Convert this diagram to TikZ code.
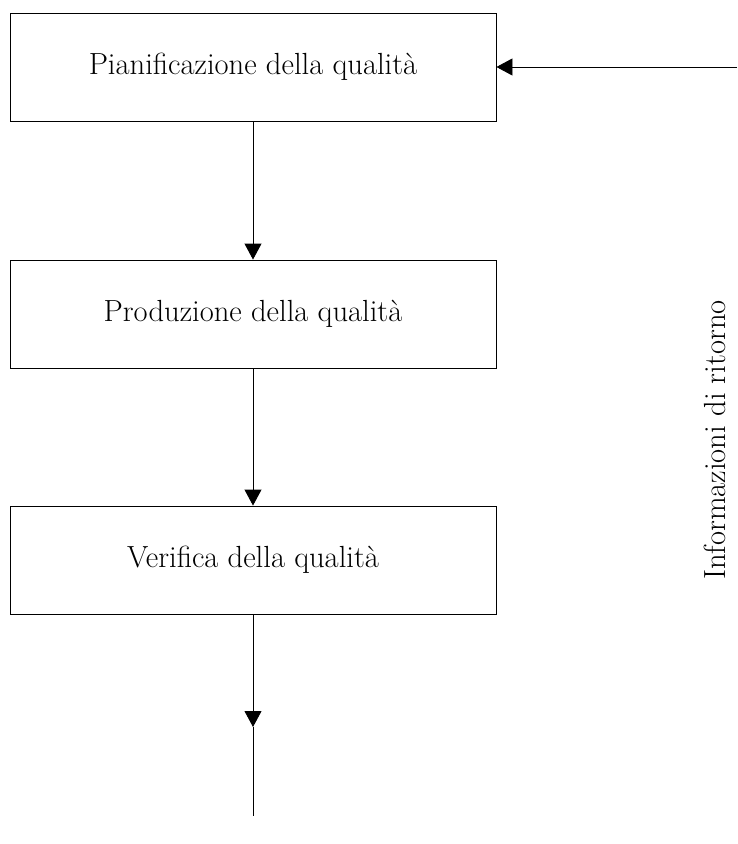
\documentclass[tikz,border=0pt]{standalone}
\usepackage{amsmath}
\usetikzlibrary{arrows.meta,positioning}

\tikzset{
  qfont/.style={font=\fontsize{17.4}{21}\selectfont},
  qbox/.style={draw, line width=0.5pt, minimum width=9.72cm, minimum height=2.16cm, inner sep=0pt, qfont},
  qarrow/.style={-{Triangle[width=0.34cm,length=0.32cm]}, line width=0.5pt}
}

\begin{document}
\begin{tikzpicture}

\useasboundingbox (0,0) rectangle (14.74,-16.88);

\node[qbox] (plan_box) at (5.06, -1.34) {Pianificazione della qualit\`a};
\node[qbox] (prod_box) at (5.06, -6.28) {Produzione della qualit\`a};
\node[qbox] (verif_box) at (5.06, -11.2) {Verifica della qualit\`a};

\coordinate (feed_in) at (14.74, -1.34);
\coordinate (out_mid) at (5.06, -14.54);
\coordinate (out_end) at (5.06, -16.32);

\node[rotate=90, qfont] (feed_label) at (14.3, -8.8) {Informazioni di ritorno};

\draw[qarrow] (plan_box) to (prod_box);
\draw[qarrow] (prod_box) to (verif_box);
\draw[qarrow] (verif_box) to (out_mid);
\draw[line width=0.5pt] (out_mid) to (out_end);
\draw[qarrow] (feed_in) to (plan_box);

\end{tikzpicture}
\end{document}
